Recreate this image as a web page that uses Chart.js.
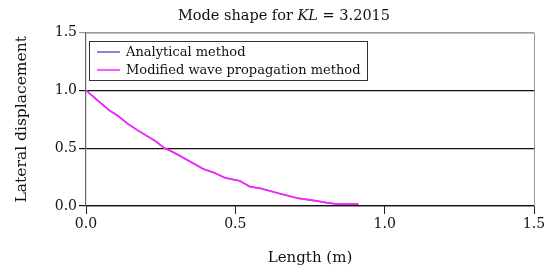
<!DOCTYPE html>
<html><head><meta charset="utf-8">
<script src="https://cdn.jsdelivr.net/npm/chart.js@4/dist/chart.umd.min.js"></script>
<style>html,body{margin:0;padding:0;background:#fff;}#wrap{width:553px;height:275px;}</style>
</head><body><div id="wrap"><canvas id="c" width="553" height="275"></canvas></div>
<script>
const lengths = [0, 0.038, 0.077, 0.105, 0.138, 0.172, 0.205, 0.233, 0.261, 0.289, 0.320, 0.359, 0.393, 0.426, 0.465, 0.516, 0.549, 0.583, 0.644, 0.711, 0.767, 0.806, 0.839, 0.912];
const analytical = [1.0, 0.915, 0.829, 0.783, 0.714, 0.656, 0.604, 0.561, 0.503, 0.469, 0.426, 0.369, 0.320, 0.291, 0.244, 0.216, 0.167, 0.153, 0.110, 0.066, 0.046, 0.029, 0.017, 0.017];
const modified = [1.0, 0.915, 0.829, 0.783, 0.714, 0.656, 0.604, 0.561, 0.503, 0.469, 0.426, 0.369, 0.320, 0.291, 0.244, 0.216, 0.167, 0.153, 0.110, 0.066, 0.046, 0.029, 0.017, 0.017];
const seriesNames = ["Analytical method", "Modified wave propagation method"];
const xTicks = [0, 0.5, 1.0, 1.5];
const yTicks = [0, 0.5, 1.0, 1.5];
const FONT = "'DejaVu Serif', serif";
const BLUE = '#5a5ad8', MAGENTA = '#ff22ff';

const pts = (xs, ys) => xs.map((x, i) => ({x: x, y: ys[i]}));

const extras = {
  id: 'extras',
  afterDraw(chart) {
    const ctx = chart.ctx, a = chart.chartArea;
    ctx.save();
    ctx.strokeStyle = '#9a9a9a'; ctx.lineWidth = 1;
    ctx.beginPath();
    ctx.moveTo(a.left, a.top + 0.5); ctx.lineTo(a.right + 0.5, a.top + 0.5); ctx.lineTo(a.right + 0.5, a.bottom);
    ctx.stroke();
    const parts = [["Mode shape for ", "normal"], ["KL", "italic"], [" = 3.2015", "normal"]];
    ctx.fillStyle = '#111'; ctx.textBaseline = 'middle';
    let total = 0;
    parts.forEach(p => { ctx.font = p[1] + " 14.5px " + FONT; total += ctx.measureText(p[0]).width; });
    let x = 284 - total / 2;
    parts.forEach(p => { ctx.font = p[1] + " 14.5px " + FONT; ctx.textAlign = 'left'; ctx.fillText(p[0], x, 16); x += ctx.measureText(p[0]).width; });
    const bx = 89, by = 41, bw = 278, bh = 39;
    ctx.fillStyle = '#fff'; ctx.fillRect(bx, by, bw, bh);
    ctx.strokeStyle = '#333'; ctx.lineWidth = 1;
    ctx.strokeRect(bx + 0.5, by + 0.5, bw, bh);
    const cols = [BLUE, MAGENTA];
    const rowsY = [52, 70];
    ctx.font = "13px " + FONT;
    seriesNames.forEach((n, i) => {
      ctx.strokeStyle = cols[i]; ctx.lineWidth = 1.5;
      ctx.beginPath(); ctx.moveTo(97, rowsY[i]); ctx.lineTo(120, rowsY[i]); ctx.stroke();
      ctx.fillStyle = '#111'; ctx.textAlign = 'left'; ctx.textBaseline = 'middle';
      ctx.fillText(n, 126, rowsY[i] + 1);
    });
    ctx.restore();
  }
};

new Chart(document.getElementById('c'), {
  type: 'scatter',
  data: {
    datasets: [
      {label: seriesNames[0], data: pts(lengths, analytical), showLine: true, borderColor: BLUE, borderWidth: 1.5, pointRadius: 0, tension: 0, order: 2},
      {label: seriesNames[1], data: pts(lengths, modified), showLine: true, borderColor: MAGENTA, borderWidth: 1.7, pointRadius: 0, tension: 0, order: 1}
    ]
  },
  options: {
    responsive: false, animation: false, devicePixelRatio: 1,
    layout: {padding: {top: 32.5, right: 19, left: 0, bottom: 0}},
    plugins: {legend: {display: false}, title: {display: false}, tooltip: {enabled: false}},
    scales: {
      x: {
        type: 'linear', min: 0, max: 1.5,
        afterBuildTicks: s => { s.ticks = xTicks.map(v => ({value: v})); },
        afterFit: s => { s.height = 69; },
        ticks: {color: '#111', font: {family: FONT, size: 14}, padding: 2, callback: v => v.toFixed(1), maxRotation: 0},
        grid: {drawOnChartArea: false, drawTicks: true, tickLength: 8, color: '#222'},
        border: {color: '#111', width: 1.2},
        title: {display: true, text: 'Length (m)', color: '#111', font: {family: FONT, size: 15}, padding: {top: 4, bottom: 8}}
      },
      y: {
        type: 'linear', min: 0, max: 1.5,
        afterBuildTicks: s => { s.ticks = yTicks.map(v => ({value: v})); },
        afterFit: s => { s.width = 86; },
        ticks: {color: '#111', font: {family: FONT, size: 14}, padding: 2, callback: v => v.toFixed(1)},
        grid: {drawTicks: true, tickLength: 7, color: c => (c.tick && c.tick.value === 1.5) ? '#9a9a9a' : '#111', lineWidth: 1.2},
        border: {color: '#666', width: 1.2},
        title: {display: true, text: 'Lateral displacement', color: '#111', font: {family: FONT, size: 15.5}, padding: {top: 13, bottom: 0}}
      }
    }
  },
  plugins: [extras]
});
</script></body></html>
